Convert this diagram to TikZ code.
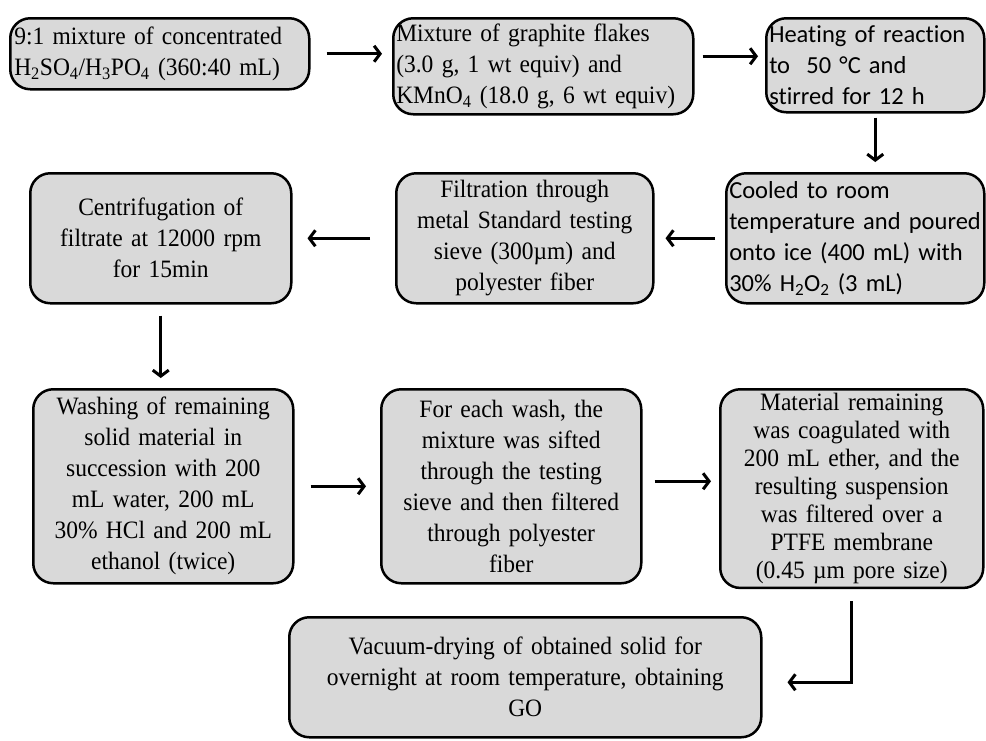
\documentclass[tikz,border=0pt]{standalone}
\usepackage{fontspec}
\setmainfont{Liberation Serif}[FakeStretch=0.94]
\newfontfamily\calib{Carlito}[Ligatures=NoCommon]
\usetikzlibrary{arrows.meta}
\definecolor{boxgray}{RGB}{217,217,217}

\begin{document}
\begin{tikzpicture}[x=1pt,y=-1pt,
    stepbox/.style={draw, line width=2.5pt, fill=boxgray, rounded corners=20pt,
        anchor=north west, inner sep=4pt, font=\fontsize{25}{31}\selectfont},
    sansbox/.style={stepbox, inner xsep=3pt, font=\calib\fontsize{24.5}{31}\selectfont},
    flow/.style={-{Straight Barb[length=6pt,width=16pt]}, line width=3pt}]
        % Fix the page to the size of the reference
        \useasboundingbox (0,0) rectangle (986,740);

        % First row: acid mixture, graphite and heating
        \node[stepbox, text width=291, minimum height=71, align=left] (acid) at (9,17)
            {9:1 mixture of concentrated\\H\textsubscript{2}SO\textsubscript{4}/H\textsubscript{3}PO\textsubscript{4} (360:40 mL)};
        \node[stepbox, inner xsep=3pt, text width=294, minimum height=96, align=left] (graphite) at (392,17)
            {Mixture of graphite flakes\\(3.0 g, 1 wt equiv) and\\KMnO\textsubscript{4} (18.0 g, 6 wt equiv)};
        \node[sansbox, text width=212, minimum height=94, align=left] (heat) at (765,17)
            {Heating of reaction\\to~~50 °C and\\stirred for 12 h};

        % Second row, read from right to left
        \node[sansbox, text width=252, minimum height=130, align=left] (cool) at (725,172)
            {Cooled to room\\temperature and poured\\onto ice (400 mL) with\\30\% H\textsubscript{2}O\textsubscript{2} (3 mL)};
        \node[stepbox, text width=249, minimum height=130, align=center] (filter) at (395,172)
            {Filtration through\\metal Standard testing\\sieve (300µm) and\\polyester fiber};
        \node[stepbox, text width=253, minimum height=130, align=center] (centri) at (29,172)
            {Centrifugation of\\filtrate at 12000 rpm\\for 15min};

        % Third row: washing, sifting and coagulation
        \node[stepbox, text width=252, minimum height=194, align=center] (wash) at (32,388)
            {Washing of remaining\\solid material in\\succession with 200\\mL water, 200 mL\\30\% HCl and 200 mL\\ethanol (twice)};
        \node[stepbox, text width=252, minimum height=194, align=center] (sift) at (380,388)
            {For each wash, the\\mixture was sifted\\through the testing\\sieve and then filtered\\through polyester\\fiber};
        \node[stepbox, text width=255, minimum height=198, align=center,
            font=\fontsize{25}{28}\selectfont] (coag) at (719,388)
            {Material remaining\\was coagulated with\\200 mL ether, and the\\resulting suspension\\was filtered over a\\PTFE membrane\\(0.45 µm pore size)};

        % Last step
        \node[stepbox, text width=464, minimum height=120, align=center] (dry) at (288,616)
            {Vacuum-drying of obtained solid for\\overnight at room temperature, obtaining\\GO};

        % Arrows between the steps
        \draw[flow, shorten <=16pt, shorten >=10pt] (acid.east) -- (acid.east -| graphite.west);
        \draw[flow, shorten <=8pt, shorten >=7pt] ([yshift=10pt]graphite.east) -- ([yshift=10pt]graphite.east -| heat.west);
        \draw[flow, shorten <=4pt, shorten >=10pt] (heat.south) -- (heat.south |- cool.north);
        \draw[flow, shorten <=10pt, shorten >=11pt] (cool.west) -- (cool.west -| filter.east);
        \draw[flow, shorten <=25pt, shorten >=15pt] (filter.west) -- (filter.west -| centri.east);
        \draw[flow, shorten <=11pt, shorten >=10pt] (centri.south) -- (centri.south |- wash.north);
        \draw[flow, shorten <=16pt, shorten >=14pt] (wash.east) -- (wash.east -| sift.west);
        \draw[flow, shorten <=12pt, shorten >=8pt] ([yshift=5pt]sift.east) -- ([yshift=5pt]sift.east -| coag.west);
        % Elbow down from the membrane step to the drying step
        \draw[flow, shorten <=12pt, shorten >=25pt] (coag.south) |- ([yshift=-5pt]dry.east);
\end{tikzpicture}
\end{document}
